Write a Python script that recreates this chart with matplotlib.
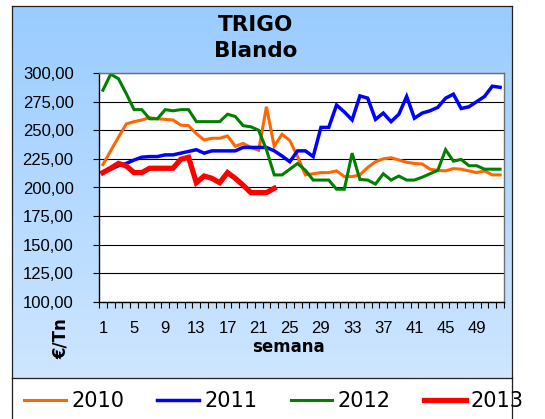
import matplotlib
matplotlib.use("Agg")
import matplotlib.pyplot as plt
import numpy as np
from matplotlib.lines import Line2D
from matplotlib.ticker import FixedLocator, FuncFormatter

# precios semanales trigo blando (EUR/Tn)
weeks = list(range(1, 53))
p2010 = [220, 232, 244, 255.5, 257.5, 259, 261, 260, 259.5, 259,
         254.5, 254, 247, 241.5, 243, 243, 245, 236, 238.5, 235,
         232.5, 270.5, 236, 246.5, 241, 227, 211, 212, 213, 213,
         214.5, 209.5, 209.5, 211, 217.5, 222.5, 225, 226, 224, 222,
         221, 220.5, 216, 215, 214.5, 216.5, 216, 214.5, 213, 214.5,
         211, 211]
p2011 = [213, 216, 219, 221, 224, 226.5, 227, 227, 228.5, 228.5,
         230, 231.5, 233, 230, 232, 232, 232, 232, 235, 235,
         235, 235, 232, 227.5, 222.5, 232, 232, 227, 252.5, 252.5,
         272, 266, 259, 280, 278, 259.5, 265, 257.5, 264, 279.5,
         260.5, 265, 267, 270, 278, 281.5, 269, 270.5, 275, 279.5,
         288.5, 287.5]
p2012 = [285, 299, 295, 282, 268, 268, 260, 260, 268, 267,
         268, 268, 257.5, 257.5, 257.5, 257.5, 264, 262, 254, 253,
         250, 233, 211, 211, 216, 221, 215, 206.5, 206.5, 206.5,
         198.5, 198.5, 230, 207, 206.5, 203, 212, 206.5, 210, 206.5,
         206.5, 209, 212, 215, 233, 223, 224.5, 219, 219, 216,
         216, 216]
p2013 = [213, 216.8, 221, 218.8, 213, 213, 216.8, 216.8, 216.8, 216.8,
         224.6, 226.4, 204.2, 210, 208, 204.2, 213, 208, 202, 195.5,
         195.5, 195.5, 199.3]

series = [("2010", p2010, "#FF6600", 2.2),
          ("2011", p2011, "#0000FF", 2.5),
          ("2012", p2012, "#008000", 2.2),
          ("2013", p2013, "#FF0000", 3.8)]

W, H = 545, 419
fig = plt.figure(figsize=(W / 100, H / 100), dpi=100)
fig.patch.set_facecolor("white")

def fx(px):
    return px / W

def fy(py):
    return 1 - py / H

# fondo azul degradado (zona del grafico)
bx0, bx1, by0, by1 = 12, 512, 6, 378
bg = fig.add_axes([fx(bx0), fy(by1), fx(bx1 - bx0), (by1 - by0) / H], zorder=0)
grad = np.linspace(0, 1, 256)[:, None] * np.ones((1, 64))
top = np.array([153, 204, 255]) / 255
bot = np.array([206, 230, 255]) / 255
img = top[None, None, :] * (1 - grad[..., None]) + bot[None, None, :] * grad[..., None]
bg.imshow(img, aspect="auto", extent=[0, 1, 0, 1], origin="upper")
bg.set_xlim(0, 1); bg.set_ylim(0, 1)
bg.set_xticks([]); bg.set_yticks([])
for s in bg.spines.values():
    s.set_color("#202020"); s.set_linewidth(0.9)

# bordes de la zona de leyenda
for xx in (bx0, bx1):
    fig.add_artist(Line2D([fx(xx), fx(xx)], [fy(by1), 0], color="#202020", lw=0.9))

fig.text(fx(256), fy(38), "TRIGO\nBlando", ha="center", va="center",
         fontsize=15.5, fontweight="bold", family="DejaVu Sans", linespacing=1.42)

# area de trazado
px0, px1, py0, py1 = 99, 504, 73, 302
ax = fig.add_axes([fx(px0), fy(py1), fx(px1 - px0), (py1 - py0) / H], zorder=2)
ax.set_facecolor("white")
for name, vals, col, lw in series:
    ax.plot(weeks[:len(vals)], vals, color=col, lw=lw, solid_joinstyle="miter",
            label=name)

ax.set_xlim(0.5, 52.5)
ax.set_ylim(100, 300)
yt = np.arange(100, 301, 25)
ax.set_yticks(yt)
ax.yaxis.set_major_formatter(FuncFormatter(lambda v, p: ("%.2f" % v).replace(".", ",")))
ax.grid(axis="y", color="black", lw=0.8)
ax.set_axisbelow(True)
ax.set_xticks(weeks[::4])
ax.xaxis.set_minor_locator(FixedLocator(np.arange(0.5, 53, 1)))
ax.tick_params(axis="x", which="major", length=0, pad=14, labelsize=12)
ax.tick_params(axis="x", which="minor", length=4, width=0.8, direction="out")
ax.tick_params(axis="y", length=4.3, width=0.8, pad=14, labelsize=12)
for lab in ax.get_xticklabels() + ax.get_yticklabels():
    lab.set_family("Liberation Sans")
ax.spines["left"].set_color("black")
ax.spines["bottom"].set_color("black")
ax.spines["top"].set_color("#707070")
ax.spines["right"].set_color("#707070")
for s in ax.spines.values():
    s.set_linewidth(1.0)

fig.text(fx(288), fy(347), "semana", ha="center", va="center",
         fontsize=12, fontweight="bold", family="DejaVu Sans")
fig.text(fx(61), fy(339), "€/Tn", ha="center", va="center", rotation=90,
         fontsize=12, fontweight="bold", family="DejaVu Sans")

handles = [Line2D([], [], color=c, lw=lw) for _, _, c, lw in series]
fig.legend(handles, [s[0] for s in series], loc="center", ncol=4,
           bbox_to_anchor=(fx(274), fy(401)), frameon=False,
           prop={"family": "DejaVu Sans", "size": 15},
           handlelength=2.0, handletextpad=0.25, columnspacing=1.6,
           borderaxespad=0)

fig.savefig("out.png", dpi=100)
